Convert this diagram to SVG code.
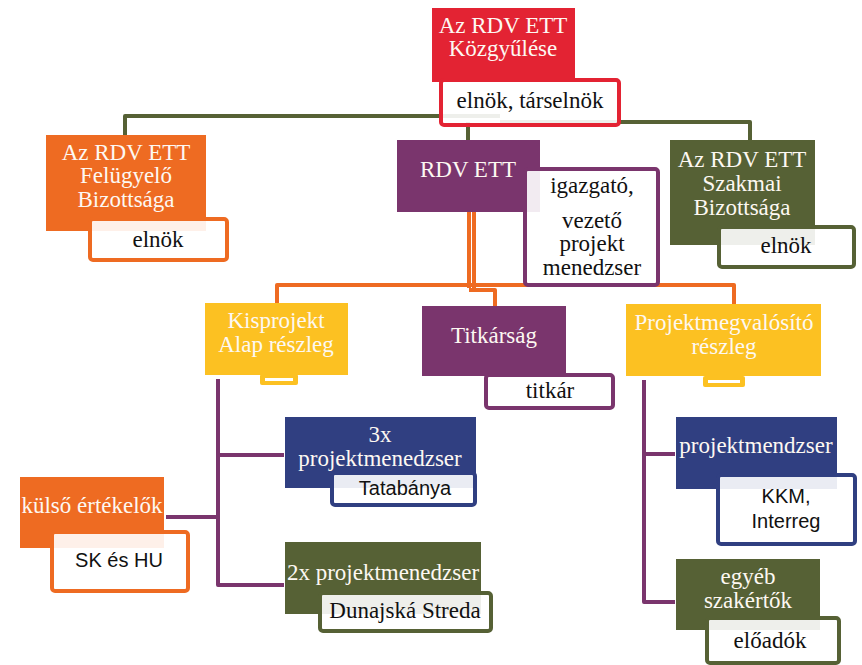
<svg xmlns="http://www.w3.org/2000/svg" width="862" height="665" viewBox="0 0 862 665">
<style>
.t{font-family:"Liberation Serif","Times New Roman",serif;font-size:23px;fill:#fdf8f2;text-anchor:middle}
.d{font-family:"Liberation Serif","Times New Roman",serif;font-size:23px;fill:#111;text-anchor:middle}
.s{font-family:"Liberation Sans",Arial,sans-serif;font-size:20px;fill:#111;text-anchor:middle}
.w{fill:#fff;fill-opacity:0.9;stroke-width:4}
.c{fill:none;stroke-width:4;stroke-linejoin:round}
.red{fill:#E32333}.ora{fill:#EE6B22}.pur{fill:#7A356D}.grn{fill:#566135}.nav{fill:#303F81}.yel{fill:#FCC122}
</style>
<rect width="862" height="665" fill="#fff"/>
<g id="connectors">
<path class="c" stroke="#566135" d="M125,136 V116 H500"/>
<path class="c" stroke="#566135" d="M500,122 H750 V140 M468,122 V140"/>
<path class="c" stroke="#EE6B22" stroke-width="3" d="M469,212 V288 M474,212 V288"/>
<path class="c" stroke="#EE6B22" d="M277,303 V285 H734 V304 M469,290 H495 V306"/>
<path class="c" stroke="#7A356D" d="M218,379 V585 H284 M218,455 H284 M166,517 H218"/>
<path class="c" stroke="#7A356D" d="M644,380 V602 H675 M644,454 H675"/>
</g>
<g id="kozgyules">
<rect class="red" x="432" y="8" width="143" height="74"/>
<text class="t" x="503" y="33">Az RDV ETT</text>
<text class="t" x="503" y="56">Közgyűlése</text>
<rect class="w" x="441" y="80" width="178" height="45" rx="3" stroke="#E32333"/>
<text class="d" x="530" y="108">elnök, társelnök</text>
</g>
<g id="felugyelo">
<rect class="ora" x="46" y="135" width="160" height="96"/>
<text class="t" x="126" y="160">Az RDV ETT</text>
<text class="t" x="126" y="183">Felügyelő</text>
<text class="t" x="126" y="207">Bizottsága</text>
<rect class="w" x="90" y="219" width="137" height="41" rx="3" stroke="#EE6B22"/>
<text class="d" x="158" y="247">elnök</text>
</g>
<g id="rdvett">
<rect class="pur" x="397" y="140" width="143" height="72"/>
<text class="t" x="468" y="177">RDV ETT</text>
<rect class="w" x="525" y="169" width="133" height="116" rx="3" stroke="#7A356D"/>
<text class="d" x="592" y="193">igazgató,</text>
<text class="d" x="592" y="228">vezető</text>
<text class="d" x="592" y="251">projekt</text>
<text class="d" x="592" y="275">menedzser</text>
</g>
<g id="szakmai">
<rect class="grn" x="670" y="140" width="145" height="105"/>
<text class="t" x="742" y="167">Az RDV ETT</text>
<text class="t" x="742" y="191">Szakmai</text>
<text class="t" x="742" y="215">Bizottsága</text>
<rect class="w" x="719" y="227" width="135" height="40" rx="3" stroke="#566135"/>
<text class="d" x="786" y="253">elnök</text>
</g>
<g id="kisprojekt">
<rect class="yel" x="205" y="303" width="143" height="72"/>
<text class="t" x="276" y="328">Kisprojekt</text>
<text class="t" x="276" y="352">Alap részleg</text>
<rect class="yel" x="260" y="374" width="38" height="11" rx="2"/>
<rect x="265" y="378" width="28" height="3" fill="#fff"/>
</g>
<g id="titkarsag">
<rect class="pur" x="422" y="306" width="144" height="70"/>
<text class="t" x="494" y="343">Titkárság</text>
<rect class="w" x="486" y="375" width="127" height="33" rx="3" stroke="#7A356D"/>
<text class="d" x="550" y="398">titkár</text>
</g>
<g id="projektmegvalosito">
<rect class="yel" x="626" y="304" width="195" height="72"/>
<text class="t" x="724" y="330">Projektmegvalósító</text>
<text class="t" x="724" y="354">részleg</text>
<rect class="yel" x="703" y="376" width="42" height="11" rx="2"/>
<rect x="708" y="380" width="32" height="3" fill="#fff"/>
</g>
<g id="pm3x">
<rect class="nav" x="285" y="417" width="191" height="71"/>
<text class="t" x="380" y="442">3x</text>
<text class="t" x="380" y="466">projektmenedzser</text>
<rect class="w" x="332" y="473" width="143" height="32" rx="3" stroke="#303F81"/>
<text class="s" x="405" y="495">Tatabánya</text>
</g>
<g id="kulso">
<rect class="ora" x="20" y="477" width="144" height="71"/>
<text class="t" x="92" y="513">külső értékelők</text>
<rect class="w" x="52" y="532" width="136" height="59" rx="3" stroke="#EE6B22"/>
<text class="s" x="119" y="567">SK és HU</text>
</g>
<g id="pm2x">
<rect class="grn" x="285" y="542" width="196" height="72"/>
<text class="t" x="383" y="580">2x projektmenedzser</text>
<rect class="w" x="320" y="593" width="171" height="38" rx="3" stroke="#566135"/>
<text class="d" x="405" y="618">Dunajská Streda</text>
</g>
<g id="projektmendzser">
<rect class="nav" x="676" y="417" width="161" height="72"/>
<text class="t" x="756" y="453">projektmendzser</text>
<rect class="w" x="718" y="475" width="137" height="69" rx="3" stroke="#303F81"/>
<text class="s" x="786" y="503">KKM,</text>
<text class="s" x="786" y="528">Interreg</text>
</g>
<g id="egyeb">
<rect class="grn" x="676" y="559" width="144" height="71"/>
<text class="t" x="748" y="584">egyéb</text>
<text class="t" x="748" y="608">szakértők</text>
<rect class="w" x="707" y="618" width="132" height="45" rx="3" stroke="#566135"/>
<text class="d" x="770" y="648">előadók</text>
</g>
</svg>
